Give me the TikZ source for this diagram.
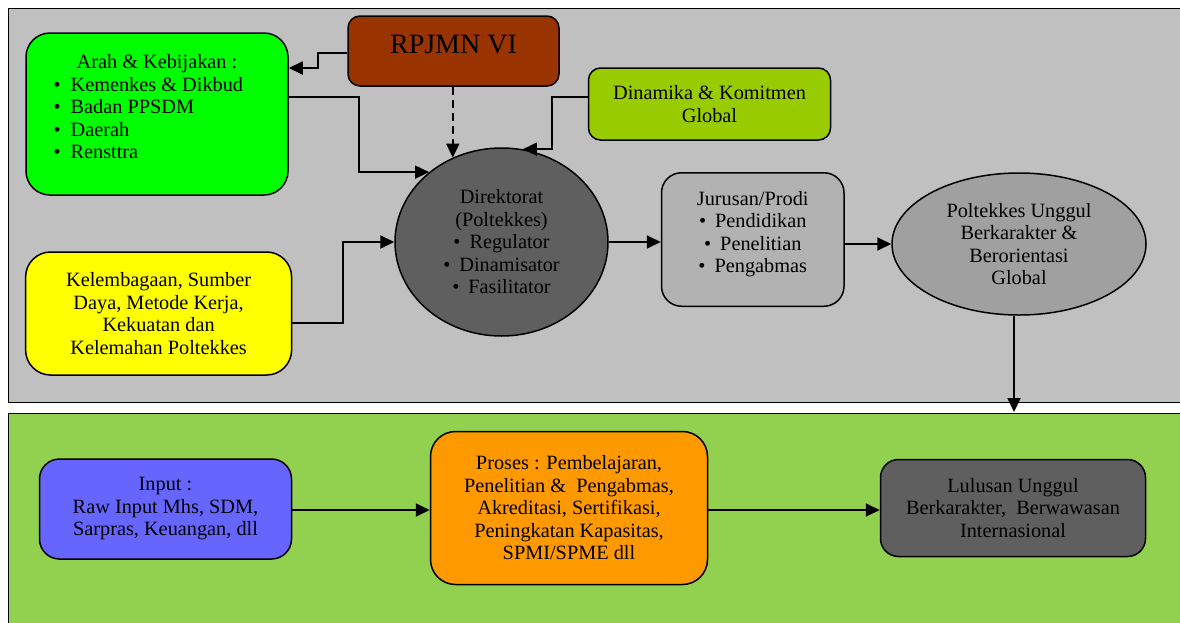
\documentclass[tikz,border=0pt]{standalone}
\usepackage{fontspec}
\setmainfont{Liberation Serif}
\usetikzlibrary{arrows.meta,shapes.geometric}
\definecolor{panelgray}{HTML}{C0C0C0}
\definecolor{panelgreen}{HTML}{92D050}
\definecolor{arahgreen}{HTML}{00FF00}
\definecolor{rpjmnbrown}{HTML}{993300}
\definecolor{dinlime}{HTML}{99CC00}
\definecolor{darkgray}{HTML}{5F5F5F}
\definecolor{midgray}{HTML}{B2B2B2}
\definecolor{polgray}{HTML}{A0A0A0}
\definecolor{kelyellow}{HTML}{FFFF00}
\definecolor{inpblue}{HTML}{6666FF}
\definecolor{proorange}{HTML}{FF9900}
\newcommand\dfont{\fontsize{20.3}{22.5}\selectfont}
\newcommand\bul{•\hspace{9pt}}
\begin{document}
\begin{tikzpicture}[x=1pt,y=-1pt,
  box/.style={draw=black, line width=1.5pt, rounded corners=#1, inner sep=0pt, align=center, font=\dfont},
  box/.default=20pt,
  oval/.style={draw=black, line width=1.5pt, ellipse, inner sep=0pt, align=center, font=\dfont},
  txt/.style={inner sep=0pt, font=\dfont},
  arr/.style={line width=1.8pt, -{Triangle[length=14pt,width=13pt]}},
  panel/.style={draw=black, line width=1pt}]
\useasboundingbox (0,0) rectangle (1180,622);
\fill[white] (0,0) rectangle (1180,622);
\clip (0,0) rectangle (1180,622);
% panels
\path[panel, fill=panelgray] (8,8) rectangle (1190,402);
\path[panel, fill=panelgreen] (8,413) rectangle (1190,630);
% nodes top
\node[box=24pt, fill=arahgreen, minimum width=262pt, minimum height=162pt] (arah) at (157,114) {};
\node[txt, align=left] (arahT) at (157,107) {\makebox[207pt]{Arah \& Kebijakan :}\\
  •\hspace{10pt}Kemenkes \& Dikbud\\
  •\hspace{10pt}Badan PPSDM\\
  •\hspace{10pt}Daerah\\
  •\hspace{10pt}Rensttra};
\node[box=12pt, fill=rpjmnbrown, minimum width=211pt, minimum height=70pt] (rpjmn) at (453.5,51) {};
\node[txt, font=\fontsize{28}{30}\selectfont] (rpjmnT) at (453.5,45) {RPJMN VI};
\node[box=12pt, fill=dinlime, minimum width=242pt, minimum height=72pt] (din) at (709.5,104) {Dinamika \& Komitmen\\Global};
\node[oval, fill=darkgray, minimum width=213pt, minimum height=188pt] (dir) at (501.5,242)
  {Direktorat\\(Poltekkes)\\\bul Regulator\\\bul Dinamisator\\\bul Fasilitator};
\node[box=20pt, fill=midgray, minimum width=182.5pt, minimum height=133.5pt] (jur) at (752.75,239.5) {};
\node[txt, align=center] (jurT) at (752.75,234) {Jurusan/Prodi\\\bul Pendidikan\\\bul Penelitian\\\bul Pengabmas};
\node[oval, fill=polgray, minimum width=254pt, minimum height=142pt] (pol) at (1019,244)
  {Poltekkes Unggul\\Berkarakter \&\\Berorientasi\\Global};
\node[box=25pt, fill=kelyellow, minimum width=266pt, minimum height=123pt] (kel) at (158.6,313.5)
  {Kelembagaan, Sumber\\Daya, Metode Kerja,\\Kekuatan dan\\Kelemahan Poltekkes};
% nodes bottom
\node[box=20pt, fill=inpblue, minimum width=252pt, minimum height=100pt] (inp) at (165.5,509)
  {Input :\\Raw Input Mhs, SDM,\\Sarpras, Keuangan, dll};
\node[box=25pt, fill=proorange, minimum width=277pt, minimum height=153pt] (pro) at (569,508)
  {Proses : Pembelajaran,\\Penelitian \&~ Pengabmas,\\Akreditasi, Sertifikasi,\\Peningkatan Kapasitas,\\SPMI/SPME dll};
\node[box=18pt, fill=darkgray, minimum width=265pt, minimum height=97pt] (lul) at (1013,508)
  {Lulusan Unggul\\Berkarakter,~ Berwawasan\\Internasional};
\coordinate (gtop) at (1014,412);
% connectors
\draw[arr] (rpjmn.west |- 0,53) -| (318,60) |- (arah.east |- 0,68);
\draw[arr] (arah.east |- 0,97) -| (359,0 |- dir.136) -- (dir.136);
\draw[arr, dash pattern=on 8pt off 5pt] (dir.120.75 |- rpjmn.south) -- (dir.120.75);
\draw[arr] (din.west |- 0,97) -| (552,0 |- dir.77) -- (dir.77);
\draw[arr] (kel.east |- 0,323) -| (343,0 |- dir.west) -- (dir.west);
\draw[arr] (dir.east) -- (dir.east -| jur.west);
\draw[arr] (jur.east |- pol.west) -- (pol.west);
\draw[arr] (gtop |- pol.south) -- (gtop);
\draw[arr] (inp.east |- 0,510) -- (pro.west |- 0,510);
\draw[arr] (pro.east |- 0,510) -- (lul.west |- 0,510);
\end{tikzpicture}
\end{document}
